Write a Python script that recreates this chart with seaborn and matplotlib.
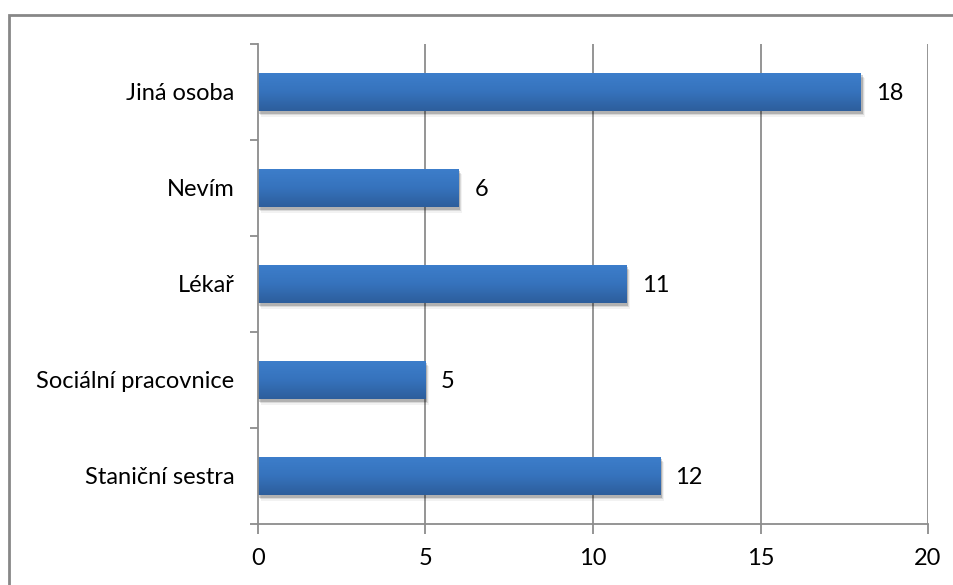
import numpy as np
import pandas as pd
import matplotlib
matplotlib.use("Agg")
import matplotlib.pyplot as plt
import matplotlib.transforms as mtransforms
from matplotlib.patches import Rectangle
from matplotlib.colors import LinearSegmentedColormap
import seaborn as sns

categories = ["Jiná osoba", "Nevím", "Lékař", "Sociální pracovnice", "Staniční sestra"]
values = [18, 6, 11, 5, 12]
x_ticks = [0, 5, 10, 15, 20]

df = pd.DataFrame({"kategorie": categories, "pocet": values})

sns.set_theme(style="white")
plt.rcParams["font.family"] = ["Lato", "DejaVu Sans"]

W, H = 954, 585
fig = plt.figure(figsize=(W / 100, H / 100), dpi=100)
ax = fig.add_axes([258 / W, 1 - 524 / H, (928 - 258) / W, (524 - 44) / H])

sns.barplot(data=df, x="pocet", y="kategorie", orient="h", order=categories,
            width=0.4, color="#3572bb", edgecolor="none", linewidth=0, ax=ax,
            zorder=3)

ax.set_xlim(0, 20)
ax.set_ylim(len(categories) - 0.5, -0.5)

# vertical gradient fill plus a soft drop shadow on every bar
grad_cmap = LinearSegmentedColormap.from_list(
    "bar_grad", ["#3d7ecb", "#3673bd", "#2d5e9c"])
grad = np.linspace(0, 1, 64).reshape(-1, 1)
for p in list(ax.patches):
    x0, y0 = p.get_x(), p.get_y()
    w, h = p.get_width(), p.get_height()
    for dx, dy, a in [(1.5, -2.5, 0.18), (2.5, -4, 0.10), (3.5, -5.5, 0.05)]:
        sh = Rectangle((x0, y0), w, h, facecolor="#000000", alpha=a,
                       edgecolor="none", zorder=2,
                       transform=ax.transData + mtransforms.ScaledTranslation(
                           dx / 100, dy / 100, fig.dpi_scale_trans))
        ax.add_patch(sh)
    im = ax.imshow(grad, cmap=grad_cmap, aspect="auto", origin="upper",
                   extent=(x0, x0 + w, y0 + h, y0), zorder=4,
                   interpolation="bilinear")
    im.set_clip_path(p)

ax.set_xlim(0, 20)
ax.set_ylim(len(categories) - 0.5, -0.5)

FS = 17

# value labels next to the bars
for i, v in enumerate(values):
    ax.annotate(str(v), xy=(v, i), xytext=(11, 0), textcoords="offset points",
                va="center_baseline", ha="left", fontsize=FS, color="black")

# grid and axes styling
grid_c = "#8c8c8c"
ax.set_xticks(x_ticks)
ax.set_xticklabels([str(t) for t in x_ticks])
for t in x_ticks[1:]:
    ax.axvline(t, color=grid_c, lw=1.3, zorder=1)
ax.set_yticks(range(len(categories)))
ax.set_yticklabels(categories)
ax.set_yticks(np.arange(-0.5, len(categories), 1.0), minor=True)
ax.tick_params(axis="y", which="major", left=True, length=0, pad=17,
               labelsize=FS, labelcolor="black")
ax.tick_params(axis="y", which="minor", left=True, length=6, width=1.3,
               color=grid_c, direction="out")
ax.tick_params(axis="x", which="major", bottom=True, length=7, width=1.3,
               color=grid_c, direction="out", pad=10, labelsize=FS,
               labelcolor="black")

for s in ["top", "right"]:
    ax.spines[s].set_visible(False)
for s in ["left", "bottom"]:
    ax.spines[s].set_visible(True)
    ax.spines[s].set_color(grid_c)
    ax.spines[s].set_linewidth(1.3)
    ax.spines[s].set_zorder(5)

ax.set_xlabel("")
ax.set_ylabel("")
ax.set_facecolor("white")

# chart-area frame
frame = Rectangle((9 / W, -0.1), 1.2, 1 - 15 / H + 0.1, transform=fig.transFigure,
                  facecolor="none", edgecolor="#878787", lw=2, zorder=0)
fig.add_artist(frame)

fig.savefig("out.png", dpi=100, facecolor="white")
